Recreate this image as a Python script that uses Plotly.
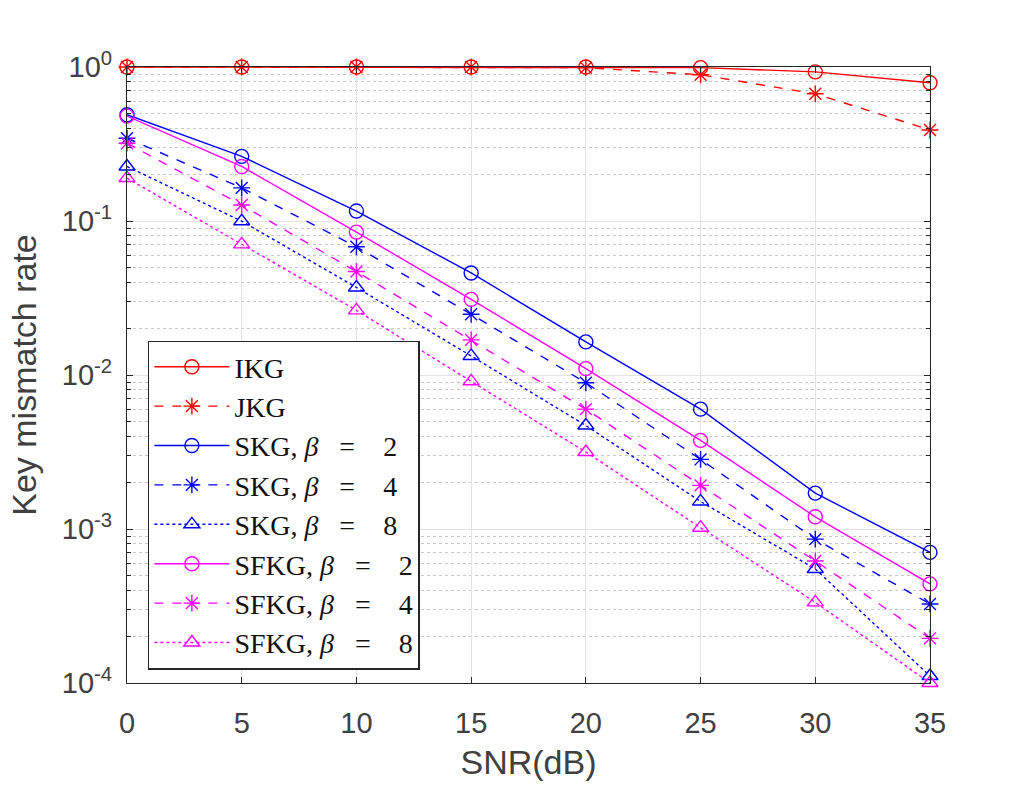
import plotly.graph_objects as go

snr = [0, 5, 10, 15, 20, 25, 30, 35]

ikg = [1.0, 1.0, 1.0, 1.0, 1.0, 0.99, 0.93, 0.79]
jkg = [1.0, 1.0, 1.0, 1.0, 0.99, 0.89, 0.67, 0.39]
skg_b2 = [0.49, 0.263, 0.116, 0.046, 0.0164, 0.0060, 0.00171, 0.000705]
skg_b4 = [0.345, 0.164, 0.068, 0.0248, 0.0089, 0.00283, 0.00086, 0.000326]
skg_b8 = [0.226, 0.0997, 0.037, 0.0133, 0.0047, 0.00151, 0.00055, 0.000111]
sfkg_b2 = [0.48, 0.226, 0.0847, 0.031, 0.011, 0.00376, 0.0012, 0.00044]
sfkg_b4 = [0.32, 0.127, 0.047, 0.0169, 0.0060, 0.00192, 0.00062, 0.000195]
sfkg_b8 = [0.19, 0.0705, 0.0263, 0.0091, 0.00316, 0.00102, 0.000334, 0.0001]

eq = "&nbsp;&nbsp;&nbsp;=&nbsp;&nbsp;&nbsp;&nbsp;"
names = ["IKG", "JKG",
         f"SKG, <i>β</i>{eq}2", f"SKG, <i>β</i>{eq}4", f"SKG, <i>β</i>{eq}8",
         f"SFKG, <i>β</i>{eq}2", f"SFKG, <i>β</i>{eq}4", f"SFKG, <i>β</i>{eq}8"]
series = [ikg, jkg, skg_b2, skg_b4, skg_b8, sfkg_b2, sfkg_b4, sfkg_b8]
colors = ["#FF0000", "#FF0000", "#0000FF", "#0000FF", "#0000FF", "#FF00FF", "#FF00FF", "#FF00FF"]
dashes = ["solid", "dash", "solid", "dash", "dot", "solid", "dash", "dot"]
symbols = ["circle-open", "asterisk-open", "circle-open", "asterisk-open", "triangle-up-open",
           "circle-open", "asterisk-open", "triangle-up-open"]

ytickvals = [1e-4, 1e-3, 1e-2, 1e-1, 1]
yticktext = ["10<sup>-4</sup>", "10<sup>-3</sup>", "10<sup>-2</sup>", "10<sup>-1</sup>", "10<sup>0</sup>"]

fig = go.Figure()
for nm, ys, c, d, s in zip(names, series, colors, dashes, symbols):
    fig.add_trace(go.Scatter(
        x=snr, y=ys, name=nm, mode="lines+markers",
        line=dict(color=c, width=1.4, dash=d),
        marker=dict(symbol=s, size=14, color=c, line=dict(color=c, width=1.4)),
        cliponaxis=False,
    ))

axis_color = "#262626"
label_color = "#404040"
fig.update_layout(
    width=1016, height=787,
    margin=dict(l=127, r=86, t=67, b=102),
    paper_bgcolor="white", plot_bgcolor="white",
    font=dict(family="Liberation Sans, Arial, sans-serif", color=label_color, size=29),
    showlegend=True,
    legend=dict(
        x=0.026, y=0.556, xanchor="left", yanchor="top",
        bgcolor="white", bordercolor="#262626", borderwidth=1.5,
        font=dict(family="Liberation Serif, DejaVu Serif, serif", size=28, color="#111111"),
        itemwidth=75,
    ),
    xaxis=dict(
        range=[0, 35], tickvals=snr, ticks="inside", ticklen=6, tickcolor=axis_color,
        showline=True, linecolor=axis_color, linewidth=1.2, mirror="ticks",
        showgrid=True, gridcolor="#E3E3E3", gridwidth=1, zeroline=False,
        title=dict(text="SNR(dB)", font=dict(size=34, color=label_color), standoff=12),
        tickfont=dict(size=29, color=label_color), ticklabelstandoff=14,
    ),
    yaxis=dict(
        type="log", range=[-4, 0], tickvals=ytickvals, ticktext=yticktext,
        ticks="inside", ticklen=6, tickcolor=axis_color,
        showline=True, linecolor=axis_color, linewidth=1.2, mirror="ticks",
        showgrid=True, gridcolor="#E3E3E3", gridwidth=1, zeroline=False,
        minor=dict(dtick="D1", showgrid=True, gridcolor="#C8C8C8", griddash="dot",
                   ticks="inside", ticklen=4, tickcolor=axis_color),
        title=dict(text="Key mismatch rate", font=dict(size=34, color=label_color), standoff=14),
        tickfont=dict(size=29, color=label_color), ticklabelstandoff=8,
    ),
)

fig.write_html("out.html")
